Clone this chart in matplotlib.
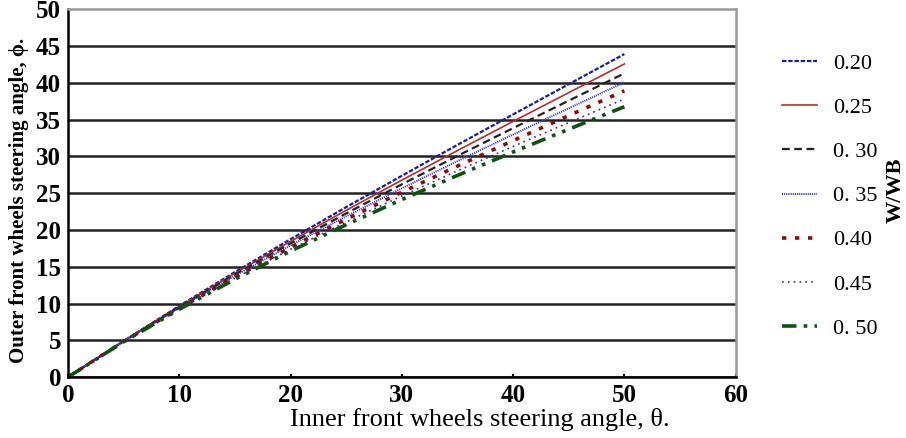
import matplotlib
matplotlib.use("Agg")
import matplotlib.pyplot as plt

theta = [0, 5, 10, 15, 20, 25, 30, 35, 40, 45, 50]
phi_020 = [0, 4.91, 9.67, 14.27, 18.74, 23.10, 27.36, 31.56, 35.70, 39.81, 43.90]
phi_025 = [0, 4.89, 9.59, 14.10, 18.45, 22.67, 26.77, 30.79, 34.75, 38.66, 42.56]
phi_030 = [0, 4.87, 9.51, 13.93, 18.17, 22.25, 26.20, 30.06, 33.84, 37.57, 41.28]
phi_035 = [0, 4.85, 9.43, 13.77, 17.89, 21.85, 25.65, 29.35, 32.97, 36.53, 40.06]
phi_040 = [0, 4.83, 9.35, 13.60, 17.63, 21.46, 25.13, 28.68, 32.14, 35.54, 38.91]
phi_045 = [0, 4.81, 9.28, 13.45, 17.37, 21.08, 24.62, 28.03, 31.35, 34.59, 37.80]
phi_050 = [0, 4.79, 9.21, 13.30, 17.12, 20.71, 24.13, 27.41, 30.59, 33.69, 36.75]
labels = ["0.20", "0.25", "0. 30", "0. 35", "0.40", "0.45", "0. 50"]
x_ticks = [0, 10, 20, 30, 40, 50, 60]
y_ticks = [0, 5, 10, 15, 20, 25, 30, 35, 40, 45, 50]

series = [phi_020, phi_025, phi_030, phi_035, phi_040, phi_045, phi_050]
styles = [
    dict(color="#1c1c9a", lw=1.6, ls=(0, (2.0, 0.8))),
    dict(color="#b03030", lw=1.2, ls="-"),
    dict(color="#222222", lw=1.6, ls=(0, (3.5, 2.0))),
    dict(color="#3b3bc8", lw=1.4, ls=(0, (0.6, 0.5))),
    dict(color="#8b0a0a", lw=2.6, ls=(0, (1.2, 2.4))),
    dict(color="#2a2ab0", lw=1.2, ls=(0, (1.0, 2.5))),
    dict(color="#0b550b", lw=2.6, ls=(0, (4.0, 2.0, 1.0, 2.0, 1.0, 2.0))),
]

plt.rcParams['font.family'] = ['Liberation Serif', 'DejaVu Serif']

fig = plt.figure(figsize=(9.06, 4.38), dpi=100)
ax = fig.add_axes([0.075, 0.139, 0.737, 0.840])

handles = []
for y, st, lab in zip(series, styles, labels):
    h, = ax.plot(theta, y, label=lab, **st)
    handles.append(h)

ax.set_xlim(0, 60)
ax.set_ylim(0, 50)
ax.set_xticks(x_ticks)
ax.set_yticks(y_ticks)
ax.tick_params(axis='x', length=2, width=1.5, direction='in', pad=5)
ax.tick_params(axis='y', length=0, pad=5)
for t in ax.get_xticklabels():
    t.set_fontsize(18); t.set_fontweight('bold')
for t in ax.get_yticklabels():
    t.set_fontsize(18); t.set_fontweight('bold')
ax.yaxis.grid(True, color='#222222', lw=1.8)
ax.set_axisbelow(True)
gl = ax.yaxis.get_gridlines()
gl[-1].set_visible(False)
ax.spines['top'].set_color('#999999')
ax.spines['right'].set_color('#999999')
ax.spines['top'].set_linewidth(1.8)
ax.spines['right'].set_linewidth(1.8)
ax.spines['left'].set_linewidth(1.8)
ax.spines['bottom'].set_linewidth(1.8)

ax.set_xlabel("Inner front wheels steering angle, θ.", fontsize=19, labelpad=0)
ax.xaxis.set_label_coords(0.617, -0.085)
ax.set_ylabel("Outer front wheels steering angle, ϕ.", fontsize=15, fontweight='bold', labelpad=4)
ax.yaxis.set_label_coords(-0.058, 0.48)

fig.legend(handles=handles, labels=labels, loc='upper left',
           bbox_to_anchor=(0.863, 0.878), frameon=False, fontsize=16,
           handlelength=1.6, labelspacing=1.06, handletextpad=0.7,
           borderpad=0, borderaxespad=0)
fig.text(0.989, 0.566, "W/WB", rotation=90, fontsize=16, fontweight='bold',
         ha='center', va='center')

fig.savefig("out.png", dpi=100)
